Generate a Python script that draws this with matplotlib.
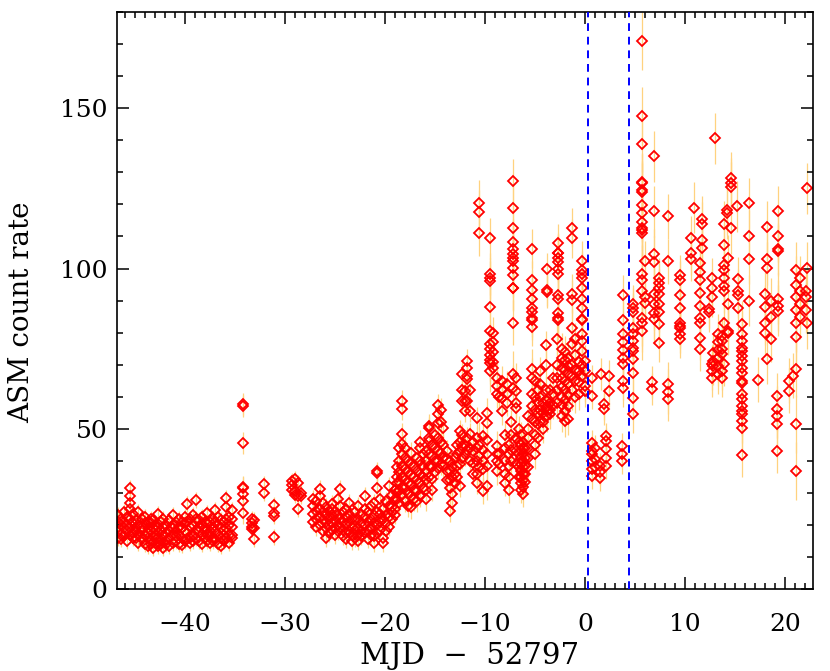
import matplotlib
matplotlib.use("Agg")
import matplotlib.pyplot as plt
from matplotlib.ticker import MultipleLocator

# --- light curve, one entry per dwell column ---
# quiescent stretch
quiet_days = [-46.7, -46.4, -46.1, -45.8, -45.5, -45.2, -44.9, -44.7, -44.3, -44.0,
              -43.7, -43.4, -43.2, -42.9, -42.7, -42.4, -42.2, -41.9, -41.6, -41.2,
              -40.9, -40.6, -40.3, -40.0, -39.8, -39.5, -39.2, -38.9, -38.6, -38.3,
              -38.0, -37.8, -37.5, -37.2, -37.0, -36.7, -36.4, -36.1, -35.9, -35.6,
              -35.3, -34.2, -33.3, -33.1, -32.1, -31.1, -29.3, -29.0, -28.7, -28.4]
quiet_err = [2.5] * 41 + [3.5] + [2.5] * 8
quiet_rates = [
    [21, 18, 16, 19.5, 23], [17, 20, 22, 15.5], [19, 24, 16.5, 21], [18, 22.5, 20, 15],
    [31.6, 29, 27, 25, 22, 19, 17], [20.5, 17.5, 23.5, 15.8], [19, 21.5, 16, 18],
    [24, 20, 17, 14.5], [18.5, 22, 15.5, 19.5], [17, 20.5, 14, 22.5],
    [16, 19, 21, 13.5, 17.5], [15, 18, 20.5, 14, 22], [12.8, 16.5, 19, 21.5],
    [14.5, 17, 20, 15.5, 18.5], [23.4, 19.5, 16, 13.5], [15, 18, 21, 14],
    [12.8, 16.5, 19.5, 22], [14, 17.5, 20, 15], [16, 18.5, 21.5, 13.5],
    [23, 20, 17, 14.5, 19], [15, 18, 21, 16.5], [14, 17, 19.5, 22], [16, 19, 21, 13.8],
    [18, 20.5, 15, 22.5], [26.5, 21, 17.5, 15.5], [16, 19.5, 22, 14.5], [17, 20, 23, 15],
    [27.8, 22, 18.5, 16], [15, 18, 21.5, 19.5], [14, 17, 20, 22.5], [16, 19, 21, 18],
    [23.9, 20.5, 17, 15], [14.5, 18, 21, 16.5], [16, 19.5, 22, 15], [24.6, 21, 18, 15.5],
    [17, 20, 22.5, 14], [13.5, 16, 19, 21.5], [15, 18.5, 21, 17], [28.4, 25.6, 22, 19, 16],
    [14.5, 17, 20, 22.5], [24.6, 22, 19.5, 17, 16],
    [57.8, 57.2, 45.6, 31.9, 31.6, 29.7, 27.5, 23.8], [22, 20.5, 19.5, 18.8],
    [21.5, 19, 15.6], [32.8, 30], [26.3, 23.8, 22.8, 16.3], [33.8, 32.5, 31],
    [34.5, 30.5, 29.5], [33, 29.1, 25], [30, 29],
]

# slow rise
rise_days = [-27.2, -26.9, -26.5, -26.2, -25.9, -25.6, -25.3, -25.0, -24.7, -24.5,
             -24.2, -23.9, -23.6, -23.3, -23.0, -22.7, -22.4, -22.0, -21.7, -21.4,
             -21.1, -20.8, -20.5, -20.2, -19.9, -19.6, -19.3, -19.0, -18.8, -18.6,
             -18.3, -18.0, -17.7, -17.4, -17.1, -16.8, -16.5, -16.2]
rise_err = [2.8] * 28 + [3.5] * 10
rise_rates = [
    [26, 23.5, 21, 28], [24.5, 22, 19.5, 27.5], [31.3, 29, 25, 22.5, 20], [27, 24, 21.5, 18],
    [16, 19, 23, 25.5, 21], [22, 24.5, 20, 17.5], [25, 23, 20.5, 18.5, 26.5],
    [21.5, 19, 17, 24], [28, 23, 20, 18], [31.3, 26, 22, 19.5], [24, 21, 18.5, 16.5],
    [22.5, 20, 17.5, 15.5, 25], [27, 23.5, 21, 18], [19.5, 17, 15, 22], [24, 21.5, 18.5, 16],
    [26, 22, 19, 17, 15], [20.5, 18, 16.5, 23.5], [29, 25, 22.5, 20, 17.5],
    [24, 21, 18.5, 15.5], [22, 19.5, 17, 26], [27, 23, 20.5, 16.5, 14.5],
    [36.9, 36.3, 31.6, 24, 20, 17.5], [28, 23.5, 21, 18.5], [25, 22, 16, 14.4],
    [27.5, 23, 20.5, 18], [32.2, 26, 22.5, 19.5], [29.5, 25.5, 22, 24], [31, 28, 25, 23],
    [38, 35, 33, 30, 28], [44, 40, 36.5, 33.5, 31, 27],
    [58.7, 56.3, 48.4, 45.3, 42, 38.5, 35, 32, 29.5], [44, 41, 37.5, 34, 31.5, 27.5],
    [40, 36.5, 33, 30, 26], [42.5, 39, 35.5, 32.5, 29, 25.5], [38, 35, 31, 28],
    [41, 37, 34, 30.5, 27.5], [46, 44, 40, 36, 33, 29], [42, 38.5, 35, 31.5],
]

# climb towards the outburst
climb_days = [-15.9, -15.6, -15.3, -15.0, -14.7, -14.4, -14.2, -13.8, -13.5, -13.3,
              -13.0, -12.8, -12.5, -12.3, -12.0, -11.8, -11.5, -11.2, -10.8, -10.6,
              -10.2, -9.8, -9.5, -9.2, -8.8, -8.6, -8.3, -8.0, -7.8, -7.6,
              -7.4, -7.2, -6.9, -6.6, -6.4, -6.2, -6.0, -5.7, -5.3, -5.0,
              -4.7, -4.5, -4.2, -3.9, -3.8, -3.5, -3.2, -2.8, -2.7, -2.3,
              -2.0, -1.7, -1.3, -1.0, -0.6, -0.3, 0.0]
climb_err = [3.5] * 19 + [7, 4, 4.5, 6.5, 5, 4.5, 4, 4.5, 4, 4,
                          4, 4, 7, 4.5, 4, 4, 4, 4, 4.5, 6, 4.5,
                          4.5, 4.5, 4.5, 4.5, 5, 4.5, 4.5, 5, 6, 5,
                          5, 5, 6, 5, 5, 6, 5]
climb_rates = [
    [43, 40, 37, 34, 31, 28], [51, 50.3, 47.2, 46.2, 42, 38.5, 35], [45, 41.5, 38, 34.5, 31],
    [48, 44, 40, 36.5], [57.5, 54.7, 51.9, 47, 43, 40, 37.8], [56, 52, 46, 42.5, 39],
    [50.3, 45, 41, 38.4], [43, 40.5, 37, 34], [40, 37, 34, 31.6, 24.4], [38, 35, 29.7, 26.9],
    [41, 36, 33], [45, 42, 38.5, 35], [49.4, 46, 43, 39, 32.2],
    [67.2, 62, 58.8, 48, 44.7, 41], [61.9, 58.8, 55.6, 45, 42],
    [71.3, 69, 66.6, 65.6, 58.8, 47, 43.5], [62, 55.6, 48.4, 44, 40], [46, 43, 39.5, 36],
    [53.4, 47, 44, 40, 36, 33.1], [120.6, 117.5, 111, 45, 41.5, 38],
    [47.8, 43.5, 40, 37.5, 30.6], [55, 51.9, 46.5, 42, 38.5, 32.2],
    [109.4, 98.4, 96.9, 96, 88.1, 80.6, 76.6, 75, 73, 71.5, 70.6, 68],
    [80, 77, 74, 71, 69], [66, 63.5, 61, 44.7, 42.2, 40, 36.9], [60, 42, 39],
    [65, 62, 59.7, 55.6], [48, 44, 40, 36, 33], [64, 61, 58], [45, 42, 38.5, 35, 31],
    [52, 48, 43.5, 40],
    [127.2, 119, 112.8, 108.4, 106.2, 104.4, 103.4, 102.5, 100.3, 98, 94, 93.8, 83.1, 67.2, 62.8],
    [66, 61.9, 58, 56.6, 47, 43, 39], [50, 46, 42, 38, 35],
    [48, 45, 43.5, 41, 39, 37, 35, 33, 31], [46, 44, 42, 40, 38, 36, 34, 32, 29.7],
    [44, 41, 38.5, 36, 33.5], [54, 50, 47, 44, 41, 38],
    [106.2, 96.3, 93.4, 90.6, 87.8, 86.3, 84.7, 83.8, 81.9, 68.8, 66, 61, 57, 53],
    [65, 60, 56, 52, 48, 45, 42], [62, 58.5, 55, 51.6, 47], [68, 64, 60, 56, 52],
    [58, 55, 52, 50], [76, 70, 62, 59, 56.5, 54], [100, 93.4, 92.8, 58.8, 57, 55.5, 54],
    [62, 58, 56, 54.5], [66, 61, 57.5], [78.1, 70, 66, 62, 58],
    [108, 105, 104.7, 103.4, 101.9, 100, 98.4, 91.6, 90.6, 86, 84.7, 83.8],
    [75, 72, 69, 66, 63, 60, 57.5, 54], [74, 71.5, 68.5, 65, 62, 59, 55.5, 52.5],
    [72, 69.5, 67, 64, 60.5, 57, 53], [112.8, 109.4, 92.2, 90.3, 81.3, 76.6, 70, 66.5, 62],
    [78, 73, 68.5, 65, 60], [71, 68, 64.5, 61],
    [102.5, 99.4, 98.4, 96.9, 94, 90.6, 87.8, 84.4, 83.8, 79.7, 77.5, 74.4, 70, 66.5],
    [71.3, 68, 63.4, 61.9],
]

# outburst
burst_days = [0.7, 1.0, 1.5, 1.6, 1.9, 2.1, 2.4, 3.7, 3.8, 4.8, 5.7, 6.0, 6.7, 6.9,
              7.4, 8.3, 9.5, 10.6, 10.9, 11.5, 11.7, 12.4, 12.7, 12.8, 13.0, 13.3, 13.7,
              13.9, 14.2, 14.3, 14.6, 15.2, 15.3, 15.7, 16.4, 17.3, 18.0, 18.2, 18.6,
              19.2, 19.3, 20.4, 20.8, 21.1, 21.5, 22.1, 22.2]
burst_err = [4, 4, 4, 5, 5, 4, 5, 4, 6, 6, 9, 6, 5, 8, 6, 7, 6, 7, 8, 7, 7, 6, 6,
             6, 8, 6, 6, 7, 8, 7, 8, 8, 7, 7, 8, 7, 7, 8, 7, 7, 8, 7, 7, 9, 7, 7, 8]
burst_rates = [
    [66, 60.3, 45.6, 43, 42.2, 40, 37.5, 35.3], [44, 40.5, 38], [38.4, 34.7, 36.5], [67.2],
    [57.8, 56.3], [47.8, 46.2, 43.8, 40.9, 38.4], [66.6, 61.9], [44.7, 42.2, 40],
    [91.9, 84, 79.7, 77, 74.5, 72, 70.3, 65, 62.8],
    [89, 87.8, 86.3, 81.6, 79.7, 77.5, 75.3, 74.4, 71.9, 67.5, 59.7, 54.7],
    [171, 147.5, 139, 127, 126.6, 124.4, 123.8, 119.7, 117.2, 114.4, 112.5, 111.9, 111.2,
     98.4, 96.3, 93.1, 84.7, 83.1, 80.6],
    [102.5, 91, 89.4], [64.7, 62.5], [135, 117.8, 104.4, 102, 92.2, 88.8, 86, 84.4],
    [97.2, 95.6, 94, 92.2, 88.8, 86.3, 82.8, 76.9], [116.3, 102.2, 64, 61.6, 59.4],
    [98.1, 96.3, 91.6, 87.8, 83.1, 82.2, 81.3, 79.7, 78.1], [109.4, 105, 103.1], [119],
    [101.6, 99, 96.3, 92.5, 88.4, 84.7, 83.1, 78.4, 75], [115.6, 113.8, 108.8, 106.3],
    [87.5, 86.3], [97.2, 94, 91, 70.3, 68, 66], [73.8, 71.3, 69.7], [140.6],
    [79.7, 77, 74.5, 72, 69.5, 67], [79, 77.5, 75, 73.4, 68, 66],
    [114, 107.2, 101, 99.4, 97, 94.7, 93, 83, 70.3], [118.4, 117.2],
    [103.4, 89, 80.6, 80], [128.4, 126.6, 125.3, 112.5], [119.4], [96.6, 93, 91.6, 87.8],
    [82.8, 79.7, 77.5, 75.3, 74.4, 72.8, 71.3, 69, 67.5, 65, 64.4, 61, 59.4, 57.2, 55.6,
     54.7, 52.5, 50.3, 41.9],
    [120.3, 110.3, 103.1, 90], [65.3], [92, 88, 83, 80], [113.1, 103, 100.3, 71.9],
    [90, 85, 78], [60.3, 56.3, 54, 51.6, 43.1], [117.8, 110, 106.2, 105.6, 90.6, 88.4, 86.9],
    [65, 61.9], [66.6], [99.4, 95, 91, 87, 83, 78.8, 68.8, 51.6, 36.9], [97, 93, 89, 85],
    [93, 91, 87], [125, 100.3, 83],
]

window = [0.27, 4.37]   # dashed markers
xlims = (-46.8, 22.8)
ylims = (0, 180)


def flatten(days, errs, rates):
    t, r, e = [], [], []
    for d, s, col in zip(days, errs, rates):
        t += [d] * len(col)
        r += col
        e += [s] * len(col)
    return t, r, e


mjd, rate, err = [], [], []
for seg in [(quiet_days, quiet_err, quiet_rates), (rise_days, rise_err, rise_rates),
            (climb_days, climb_err, climb_rates), (burst_days, burst_err, burst_rates)]:
    t, r, e = flatten(*seg)
    mjd += t
    rate += r
    err += e

plt.rcParams['font.family'] = 'DejaVu Serif'
plt.rcParams['axes.unicode_minus'] = True

fig = plt.figure(figsize=(8.3, 6.71), dpi=100)
ax = fig.add_axes([0.141, 0.122, 0.8385, 0.86])

ax.errorbar(mjd, rate, yerr=err, fmt='none', ecolor='#FFD27F', elinewidth=0.9,
            capsize=0, zorder=1)
ax.plot(mjd, rate, 'D', ms=4.6, mfc='none', mec='red', mew=1.3, ls='none', zorder=2)

for w in window:
    ax.axvline(w, color='blue', ls=(0, (4, 3)), lw=1.4, zorder=3)

ax.set_xlim(*xlims)
ax.set_ylim(*ylims)
ax.xaxis.set_major_locator(MultipleLocator(10))
ax.xaxis.set_minor_locator(MultipleLocator(1))
ax.yaxis.set_major_locator(MultipleLocator(50))
ax.yaxis.set_minor_locator(MultipleLocator(10))
ax.tick_params(which='both', direction='in', top=True, right=True, width=1.1,
               labelsize=18)
ax.tick_params(which='major', length=8.5)
ax.tick_params(which='minor', length=4)
ax.tick_params(axis='x', pad=17)
ax.tick_params(axis='y', pad=7)
for sp in ax.spines.values():
    sp.set_linewidth(1.2)

ax.set_xlabel('MJD  \u2212  52797', fontsize=21)
ax.set_ylabel('ASM count rate', fontsize=20)
ax.xaxis.set_label_coords(0.507, -0.092)
ax.yaxis.set_label_coords(-0.117, 0.48)

fig.savefig('out.png', dpi=100)
